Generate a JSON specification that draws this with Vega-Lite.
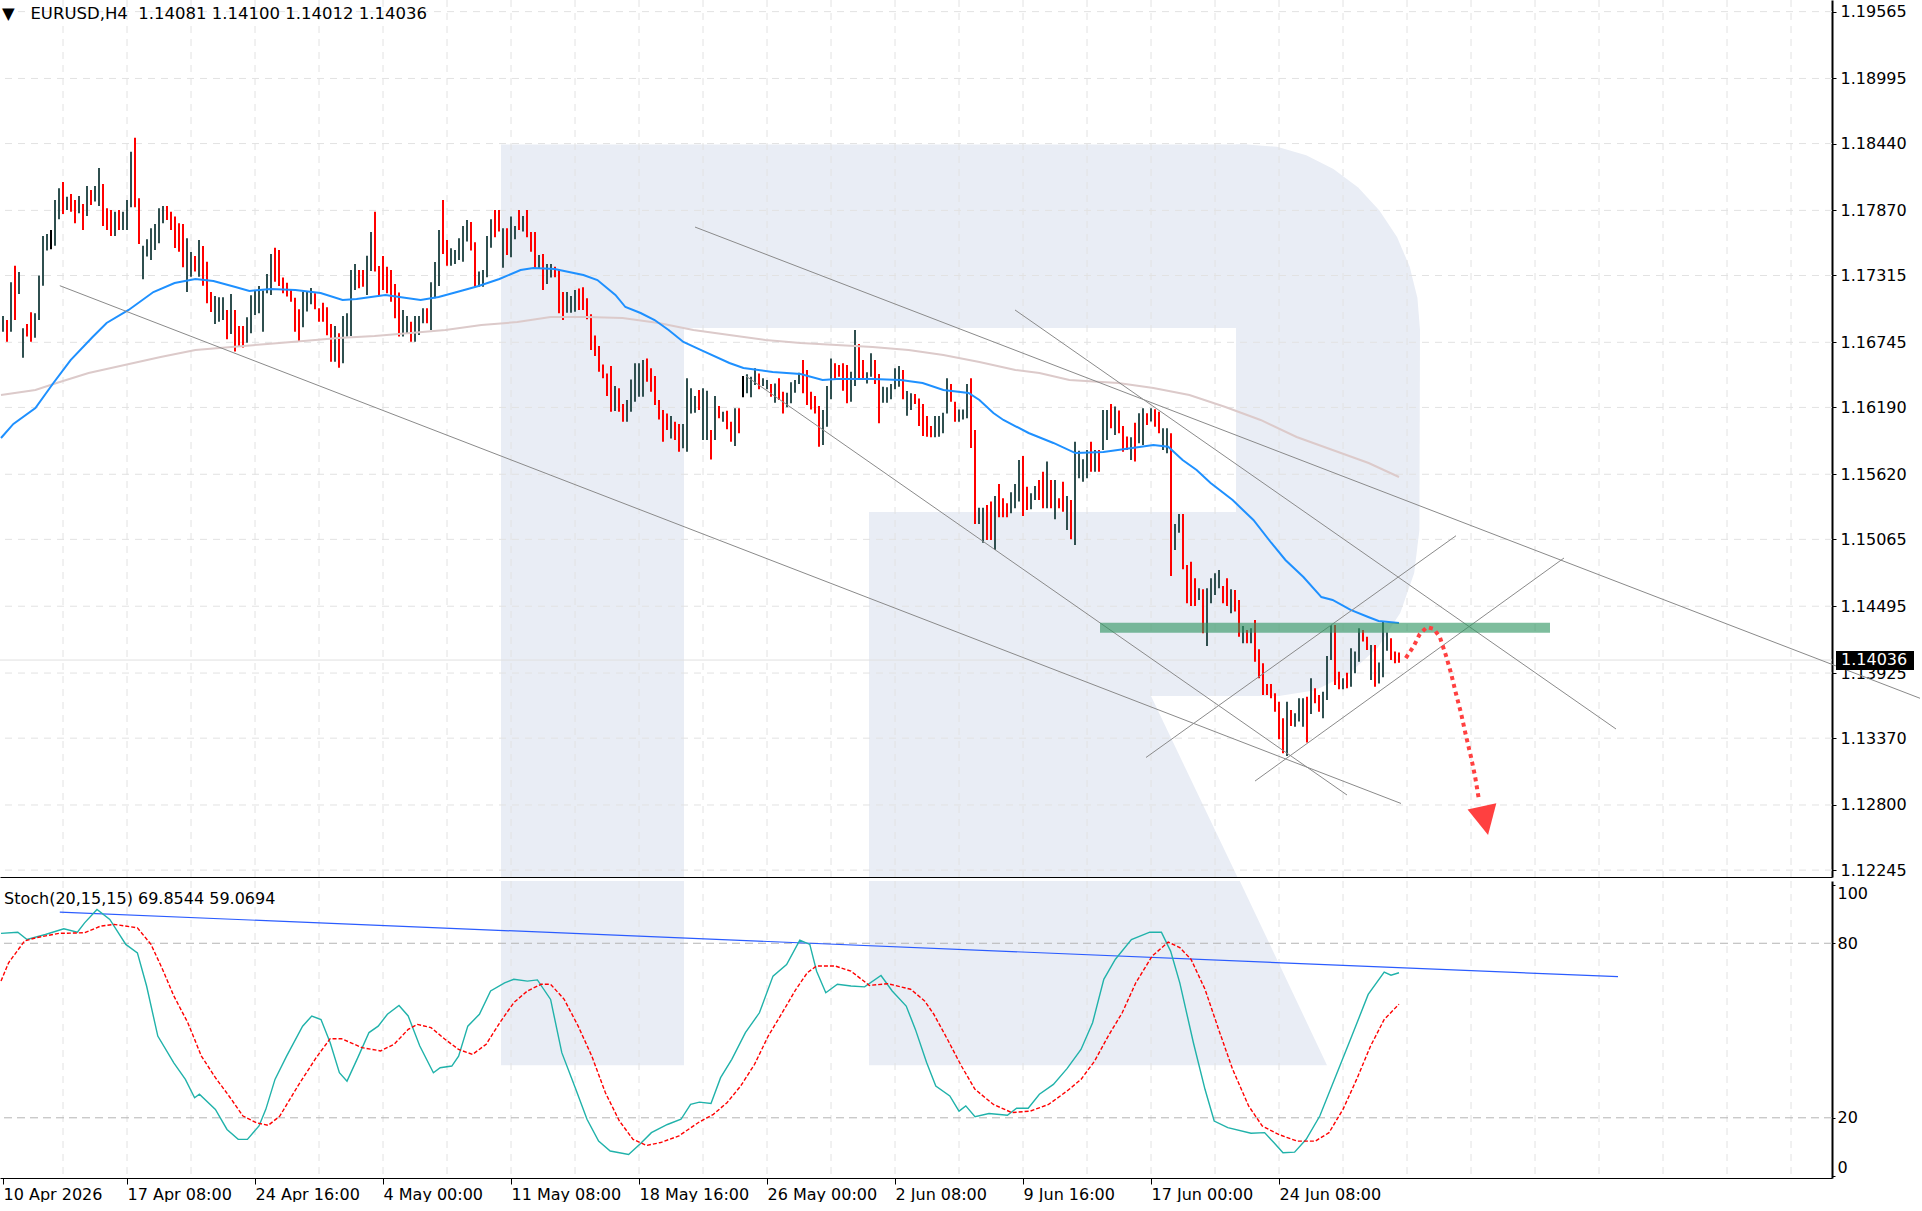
{
  "$schema": "https://vega.github.io/schema/vega-lite/v6.json",
  "description": "EURUSD H4 with moving averages, trend lines and Stochastic(20,15,15).",
  "background": "#ffffff",
  "padding": 0,
  "spacing": 2,
  "datasets": {
    "bars": [
      {"k":1,"h":1.1697,"l":1.16836,"dir":"up"},{"k":2,"h":1.16936,"l":1.16751,"dir":"down"},{"k":3,"h":1.17257,"l":1.16836,"dir":"up"},{"k":4,"h":1.17399,"l":1.16936,"dir":"down"},{"k":5,"h":1.17345,"l":1.17157,"dir":"up"},
      {"k":6,"h":1.16865,"l":1.16614,"dir":"up"},{"k":7,"h":1.16902,"l":1.16794,"dir":"down"},{"k":8,"h":1.17001,"l":1.16751,"dir":"down"},{"k":9,"h":1.16992,"l":1.16785,"dir":"up"},{"k":10,"h":1.17314,"l":1.16936,"dir":"up"},
      {"k":11,"h":1.17652,"l":1.17228,"dir":"up"},{"k":12,"h":1.17669,"l":1.17527,"dir":"up"},{"k":13,"h":1.17703,"l":1.17538,"dir":"flat"},{"k":14,"h":1.17959,"l":1.17569,"dir":"up"},{"k":15,"h":1.18058,"l":1.17794,"dir":"up"},
      {"k":16,"h":1.18112,"l":1.17839,"dir":"down"},{"k":17,"h":1.17987,"l":1.17874,"dir":"up"},{"k":18,"h":1.1801,"l":1.17859,"dir":"down"},{"k":19,"h":1.17959,"l":1.1776,"dir":"down"},{"k":20,"h":1.17993,"l":1.17845,"dir":"up"},
      {"k":21,"h":1.17925,"l":1.17703,"dir":"down"},{"k":22,"h":1.18078,"l":1.17822,"dir":"up"},{"k":23,"h":1.18044,"l":1.17916,"dir":"down"},{"k":24,"h":1.18078,"l":1.17945,"dir":"up"},{"k":25,"h":1.18232,"l":1.17908,"dir":"up"},
      {"k":26,"h":1.18095,"l":1.17737,"dir":"down"},{"k":27,"h":1.17888,"l":1.17703,"dir":"down"},{"k":28,"h":1.17874,"l":1.17652,"dir":"down"},{"k":29,"h":1.17859,"l":1.17652,"dir":"up"},{"k":30,"h":1.17874,"l":1.17703,"dir":"down"},
      {"k":31,"h":1.17859,"l":1.17703,"dir":"up"},{"k":32,"h":1.17959,"l":1.17703,"dir":"up"},{"k":33,"h":1.18371,"l":1.17896,"dir":"up"},{"k":34,"h":1.1849,"l":1.17896,"dir":"down"},{"k":35,"h":1.17973,"l":1.17584,"dir":"down"},
      {"k":36,"h":1.17569,"l":1.17282,"dir":"up"},{"k":37,"h":1.17623,"l":1.17476,"dir":"up"},{"k":38,"h":1.17717,"l":1.17447,"dir":"up"},{"k":39,"h":1.17754,"l":1.17533,"dir":"up"},{"k":40,"h":1.17888,"l":1.17589,"dir":"up"},
      {"k":41,"h":1.17908,"l":1.1776,"dir":"up"},{"k":42,"h":1.17908,"l":1.17788,"dir":"down"},{"k":43,"h":1.17859,"l":1.17703,"dir":"down"},{"k":44,"h":1.17817,"l":1.1755,"dir":"down"},{"k":45,"h":1.1776,"l":1.17518,"dir":"down"},
      {"k":46,"h":1.17754,"l":1.17385,"dir":"down"},{"k":47,"h":1.17632,"l":1.17174,"dir":"up"},{"k":48,"h":1.17515,"l":1.17305,"dir":"up"},{"k":49,"h":1.17481,"l":1.17348,"dir":"down"},{"k":50,"h":1.17618,"l":1.17305,"dir":"up"},
      {"k":51,"h":1.17567,"l":1.17228,"dir":"down"},{"k":52,"h":1.17433,"l":1.17078,"dir":"down"},{"k":53,"h":1.17174,"l":1.17004,"dir":"down"},{"k":54,"h":1.1714,"l":1.16902,"dir":"up"},{"k":55,"h":1.17129,"l":1.16921,"dir":"up"},
      {"k":56,"h":1.17129,"l":1.16936,"dir":"up"},{"k":57,"h":1.17021,"l":1.16771,"dir":"down"},{"k":58,"h":1.17157,"l":1.16816,"dir":"up"},{"k":59,"h":1.17021,"l":1.16666,"dir":"down"},{"k":60,"h":1.16884,"l":1.16708,"dir":"down"},
      {"k":61,"h":1.16884,"l":1.167,"dir":"down"},{"k":62,"h":1.16958,"l":1.16742,"dir":"up"},{"k":63,"h":1.17146,"l":1.16822,"dir":"up"},{"k":64,"h":1.17186,"l":1.16978,"dir":"up"},{"k":65,"h":1.17226,"l":1.16992,"dir":"up"},
      {"k":66,"h":1.17186,"l":1.16836,"dir":"up"},{"k":67,"h":1.17328,"l":1.17163,"dir":"up"},{"k":68,"h":1.17498,"l":1.17149,"dir":"up"},{"k":69,"h":1.17552,"l":1.17262,"dir":"down"},{"k":70,"h":1.17533,"l":1.17226,"dir":"down"},
      {"k":71,"h":1.17297,"l":1.17163,"dir":"down"},{"k":72,"h":1.17254,"l":1.17135,"dir":"down"},{"k":73,"h":1.17191,"l":1.17092,"dir":"down"},{"k":74,"h":1.17126,"l":1.16836,"dir":"down"},{"k":75,"h":1.17027,"l":1.16751,"dir":"down"},
      {"k":76,"h":1.17177,"l":1.16873,"dir":"up"},{"k":77,"h":1.17174,"l":1.17007,"dir":"up"},{"k":78,"h":1.17208,"l":1.17069,"dir":"up"},{"k":79,"h":1.17163,"l":1.17027,"dir":"down"},{"k":80,"h":1.17035,"l":1.16921,"dir":"down"},
      {"k":81,"h":1.17083,"l":1.16921,"dir":"down"},{"k":82,"h":1.17044,"l":1.16805,"dir":"down"},{"k":83,"h":1.16902,"l":1.1658,"dir":"down"},{"k":84,"h":1.16884,"l":1.1658,"dir":"up"},{"k":85,"h":1.16822,"l":1.16529,"dir":"down"},
      {"k":86,"h":1.1697,"l":1.16566,"dir":"up"},{"k":87,"h":1.16992,"l":1.16794,"dir":"up"},{"k":88,"h":1.17362,"l":1.16799,"dir":"up"},{"k":89,"h":1.17413,"l":1.17191,"dir":"up"},{"k":90,"h":1.17362,"l":1.17206,"dir":"down"},
      {"k":91,"h":1.17362,"l":1.1722,"dir":"down"},{"k":92,"h":1.17484,"l":1.17149,"dir":"up"},{"k":93,"h":1.17686,"l":1.17353,"dir":"up"},{"k":94,"h":1.17859,"l":1.17348,"dir":"down"},{"k":95,"h":1.17396,"l":1.17149,"dir":"down"},
      {"k":96,"h":1.17481,"l":1.17191,"dir":"down"},{"k":97,"h":1.1739,"l":1.17163,"dir":"down"},{"k":98,"h":1.17362,"l":1.17092,"dir":"down"},{"k":99,"h":1.17243,"l":1.1695,"dir":"down"},{"k":100,"h":1.17169,"l":1.16794,"dir":"down"},
      {"k":101,"h":1.17021,"l":1.16794,"dir":"up"},{"k":102,"h":1.1697,"l":1.16822,"dir":"up"},{"k":103,"h":1.16921,"l":1.16751,"dir":"down"},{"k":104,"h":1.1697,"l":1.16751,"dir":"up"},{"k":105,"h":1.1697,"l":1.16808,"dir":"up"},
      {"k":106,"h":1.17035,"l":1.16907,"dir":"up"},{"k":107,"h":1.17035,"l":1.16907,"dir":"down"},{"k":108,"h":1.17257,"l":1.1685,"dir":"up"},{"k":109,"h":1.1743,"l":1.1712,"dir":"up"},{"k":110,"h":1.17703,"l":1.17226,"dir":"up"},
      {"k":111,"h":1.17959,"l":1.17498,"dir":"down"},{"k":112,"h":1.17618,"l":1.17399,"dir":"down"},{"k":113,"h":1.17547,"l":1.17399,"dir":"up"},{"k":114,"h":1.17533,"l":1.17413,"dir":"up"},{"k":115,"h":1.17632,"l":1.17447,"dir":"up"},
      {"k":116,"h":1.17737,"l":1.17433,"dir":"up"},{"k":117,"h":1.17788,"l":1.17604,"dir":"up"},{"k":118,"h":1.17771,"l":1.17527,"dir":"down"},{"k":119,"h":1.17598,"l":1.1722,"dir":"down"},{"k":120,"h":1.17348,"l":1.1722,"dir":"up"},
      {"k":121,"h":1.17362,"l":1.1722,"dir":"up"},{"k":122,"h":1.17652,"l":1.17299,"dir":"up"},{"k":123,"h":1.17794,"l":1.17552,"dir":"up"},{"k":124,"h":1.17874,"l":1.17641,"dir":"down"},{"k":125,"h":1.17874,"l":1.17689,"dir":"down"},
      {"k":126,"h":1.17717,"l":1.17382,"dir":"up"},{"k":127,"h":1.17717,"l":1.1749,"dir":"down"},{"k":128,"h":1.17817,"l":1.1747,"dir":"up"},{"k":129,"h":1.17737,"l":1.17623,"dir":"up"},{"k":130,"h":1.17874,"l":1.17703,"dir":"down"},
      {"k":131,"h":1.17822,"l":1.17689,"dir":"up"},{"k":132,"h":1.17874,"l":1.17641,"dir":"down"},{"k":133,"h":1.17686,"l":1.17518,"dir":"down"},{"k":134,"h":1.17686,"l":1.17373,"dir":"down"},{"k":135,"h":1.1749,"l":1.1737,"dir":"up"},
      {"k":136,"h":1.17498,"l":1.17191,"dir":"down"},{"k":137,"h":1.17413,"l":1.17243,"dir":"up"},{"k":138,"h":1.17413,"l":1.17297,"dir":"up"},{"k":139,"h":1.1739,"l":1.17299,"dir":"down"},{"k":140,"h":1.17362,"l":1.16992,"dir":"down"},
      {"k":141,"h":1.17174,"l":1.16935,"dir":"down"},{"k":142,"h":1.17174,"l":1.16998,"dir":"up"},{"k":143,"h":1.1714,"l":1.16998,"dir":"up"},{"k":144,"h":1.17191,"l":1.17006,"dir":"up"},{"k":145,"h":1.17205,"l":1.17021,"dir":"down"},
      {"k":146,"h":1.17214,"l":1.17021,"dir":"down"},{"k":147,"h":1.1712,"l":1.16941,"dir":"down"},{"k":148,"h":1.16984,"l":1.16679,"dir":"down"},{"k":149,"h":1.16804,"l":1.16628,"dir":"down"},{"k":150,"h":1.16714,"l":1.16495,"dir":"down"},
      {"k":151,"h":1.16557,"l":1.16438,"dir":"down"},{"k":152,"h":1.1648,"l":1.16287,"dir":"down"},{"k":153,"h":1.16543,"l":1.16154,"dir":"down"},{"k":154,"h":1.16372,"l":1.16159,"dir":"up"},{"k":155,"h":1.16353,"l":1.16154,"dir":"down"},
      {"k":156,"h":1.16219,"l":1.16068,"dir":"down"},{"k":157,"h":1.16253,"l":1.16068,"dir":"up"},{"k":158,"h":1.16429,"l":1.16154,"dir":"up"},{"k":159,"h":1.16566,"l":1.16239,"dir":"up"},{"k":160,"h":1.16566,"l":1.16282,"dir":"up"},
      {"k":161,"h":1.16594,"l":1.16282,"dir":"up"},{"k":162,"h":1.16608,"l":1.16409,"dir":"down"},{"k":163,"h":1.16523,"l":1.16324,"dir":"down"},{"k":164,"h":1.16458,"l":1.1621,"dir":"down"},{"k":165,"h":1.16253,"l":1.16088,"dir":"down"},
      {"k":166,"h":1.16168,"l":1.15898,"dir":"down"},{"k":167,"h":1.16139,"l":1.15997,"dir":"down"},{"k":168,"h":1.16117,"l":1.15926,"dir":"up"},{"k":169,"h":1.16068,"l":1.15912,"dir":"down"},{"k":170,"h":1.16048,"l":1.15813,"dir":"down"},
      {"k":171,"h":1.16048,"l":1.15841,"dir":"up"},{"k":172,"h":1.16438,"l":1.15813,"dir":"up"},{"k":173,"h":1.16353,"l":1.16139,"dir":"up"},{"k":174,"h":1.16287,"l":1.16145,"dir":"up"},{"k":175,"h":1.16338,"l":1.16168,"dir":"down"},
      {"k":176,"h":1.16353,"l":1.15912,"dir":"up"},{"k":177,"h":1.16333,"l":1.15912,"dir":"up"},{"k":178,"h":1.15997,"l":1.15747,"dir":"down"},{"k":179,"h":1.16287,"l":1.15912,"dir":"up"},{"k":180,"h":1.16202,"l":1.16097,"dir":"down"},
      {"k":181,"h":1.16154,"l":1.16068,"dir":"up"},{"k":182,"h":1.16162,"l":1.16003,"dir":"down"},{"k":183,"h":1.16068,"l":1.15898,"dir":"down"},{"k":184,"h":1.16182,"l":1.15861,"dir":"up"},{"k":185,"h":1.16182,"l":1.15969,"dir":"down"},
      {"k":186,"h":1.16458,"l":1.16276,"dir":"flat"},{"k":187,"h":1.16472,"l":1.1631,"dir":"up"},{"k":188,"h":1.16452,"l":1.16276,"dir":"up"},{"k":189,"h":1.16523,"l":1.16381,"dir":"up"},{"k":190,"h":1.1648,"l":1.16344,"dir":"down"},
      {"k":191,"h":1.16438,"l":1.16372,"dir":"up"},{"k":192,"h":1.16424,"l":1.16344,"dir":"up"},{"k":193,"h":1.1639,"l":1.16282,"dir":"down"},{"k":194,"h":1.16395,"l":1.1623,"dir":"up"},{"k":195,"h":1.16438,"l":1.16253,"dir":"down"},
      {"k":196,"h":1.16324,"l":1.16139,"dir":"down"},{"k":197,"h":1.16316,"l":1.16191,"dir":"up"},{"k":198,"h":1.16404,"l":1.16225,"dir":"up"},{"k":199,"h":1.16424,"l":1.16316,"dir":"up"},{"k":200,"h":1.16486,"l":1.1639,"dir":"up"},
      {"k":201,"h":1.16594,"l":1.1631,"dir":"down"},{"k":202,"h":1.16509,"l":1.1621,"dir":"down"},{"k":203,"h":1.16324,"l":1.16173,"dir":"down"},{"k":204,"h":1.16287,"l":1.16139,"dir":"down"},{"k":205,"h":1.16202,"l":1.15855,"dir":"down"},
      {"k":206,"h":1.16168,"l":1.15869,"dir":"up"},{"k":207,"h":1.16372,"l":1.16026,"dir":"up"},{"k":208,"h":1.16608,"l":1.16259,"dir":"up"},{"k":209,"h":1.16566,"l":1.16424,"dir":"down"},{"k":210,"h":1.16552,"l":1.16452,"dir":"down"},
      {"k":211,"h":1.16566,"l":1.16333,"dir":"down"},{"k":212,"h":1.16552,"l":1.16225,"dir":"down"},{"k":213,"h":1.16495,"l":1.16239,"dir":"up"},{"k":214,"h":1.1685,"l":1.16372,"dir":"up"},{"k":215,"h":1.16731,"l":1.16438,"dir":"down"},
      {"k":216,"h":1.16594,"l":1.16429,"dir":"down"},{"k":217,"h":1.16489,"l":1.16395,"dir":"up"},{"k":218,"h":1.16651,"l":1.16452,"dir":"up"},{"k":219,"h":1.16594,"l":1.1639,"dir":"down"},{"k":220,"h":1.16475,"l":1.16054,"dir":"down"},
      {"k":221,"h":1.16367,"l":1.1623,"dir":"up"},{"k":222,"h":1.16361,"l":1.1623,"dir":"up"},{"k":223,"h":1.1639,"l":1.16259,"dir":"up"},{"k":224,"h":1.16523,"l":1.16344,"dir":"up"},{"k":225,"h":1.16543,"l":1.16367,"dir":"up"},
      {"k":226,"h":1.16509,"l":1.16259,"dir":"down"},{"k":227,"h":1.1633,"l":1.16119,"dir":"up"},{"k":228,"h":1.1631,"l":1.16168,"dir":"up"},{"k":229,"h":1.16304,"l":1.16219,"dir":"down"},{"k":230,"h":1.16267,"l":1.16031,"dir":"down"},
      {"k":231,"h":1.16219,"l":1.15946,"dir":"down"},{"k":232,"h":1.16117,"l":1.1594,"dir":"down"},{"k":233,"h":1.16031,"l":1.15935,"dir":"down"},{"k":234,"h":1.16117,"l":1.15935,"dir":"up"},{"k":235,"h":1.16117,"l":1.1594,"dir":"up"},
      {"k":236,"h":1.16145,"l":1.15969,"dir":"up"},{"k":237,"h":1.16438,"l":1.16139,"dir":"up"},{"k":238,"h":1.1639,"l":1.16239,"dir":"down"},{"k":239,"h":1.16239,"l":1.16068,"dir":"down"},{"k":240,"h":1.16173,"l":1.16068,"dir":"up"},
      {"k":241,"h":1.16173,"l":1.16088,"dir":"up"},{"k":242,"h":1.1639,"l":1.16097,"dir":"up"},{"k":243,"h":1.16438,"l":1.15845,"dir":"down"},{"k":244,"h":1.15998,"l":1.15196,"dir":"down"},{"k":245,"h":1.15335,"l":1.15196,"dir":"up"},
      {"k":246,"h":1.15335,"l":1.15037,"dir":"up"},{"k":247,"h":1.15358,"l":1.1506,"dir":"down"},{"k":248,"h":1.15387,"l":1.1506,"dir":"down"},{"k":249,"h":1.15435,"l":1.14974,"dir":"up"},{"k":250,"h":1.15537,"l":1.15253,"dir":"down"},
      {"k":251,"h":1.15415,"l":1.15253,"dir":"down"},{"k":252,"h":1.15372,"l":1.15253,"dir":"down"},{"k":253,"h":1.15466,"l":1.15287,"dir":"up"},{"k":254,"h":1.15537,"l":1.1533,"dir":"up"},{"k":255,"h":1.15742,"l":1.15387,"dir":"up"},
      {"k":256,"h":1.15776,"l":1.15264,"dir":"down"},{"k":257,"h":1.15514,"l":1.15316,"dir":"down"},{"k":258,"h":1.15458,"l":1.15321,"dir":"up"},{"k":259,"h":1.1552,"l":1.15401,"dir":"up"},{"k":260,"h":1.15571,"l":1.15401,"dir":"down"},
      {"k":261,"h":1.15642,"l":1.1533,"dir":"down"},{"k":262,"h":1.15728,"l":1.1533,"dir":"up"},{"k":263,"h":1.15571,"l":1.1533,"dir":"down"},{"k":264,"h":1.15571,"l":1.15236,"dir":"up"},{"k":265,"h":1.15415,"l":1.1533,"dir":"down"},
      {"k":266,"h":1.15557,"l":1.15301,"dir":"down"},{"k":267,"h":1.15435,"l":1.15145,"dir":"up"},{"k":268,"h":1.15401,"l":1.15065,"dir":"down"},{"k":269,"h":1.15898,"l":1.15017,"dir":"up"},{"k":270,"h":1.15821,"l":1.15586,"dir":"up"},
      {"k":271,"h":1.15748,"l":1.15557,"dir":"up"},{"k":272,"h":1.15827,"l":1.15586,"dir":"up"},{"k":273,"h":1.15898,"l":1.15642,"dir":"down"},{"k":274,"h":1.15827,"l":1.15642,"dir":"up"},{"k":275,"h":1.15827,"l":1.15642,"dir":"down"},
      {"k":276,"h":1.16168,"l":1.15827,"dir":"up"},{"k":277,"h":1.16168,"l":1.15912,"dir":"up"},{"k":278,"h":1.16219,"l":1.16012,"dir":"down"},{"k":279,"h":1.16197,"l":1.15955,"dir":"up"},{"k":280,"h":1.16163,"l":1.15969,"dir":"down"},
      {"k":281,"h":1.16032,"l":1.15813,"dir":"down"},{"k":282,"h":1.15941,"l":1.15827,"dir":"down"},{"k":283,"h":1.15935,"l":1.15742,"dir":"up"},{"k":284,"h":1.1606,"l":1.15728,"dir":"down"},{"k":285,"h":1.1614,"l":1.15884,"dir":"up"},
      {"k":286,"h":1.16182,"l":1.1587,"dir":"up"},{"k":287,"h":1.1614,"l":1.1604,"dir":"down"},{"k":288,"h":1.16182,"l":1.16069,"dir":"up"},{"k":289,"h":1.16174,"l":1.16026,"dir":"down"},{"k":290,"h":1.16154,"l":1.15969,"dir":"down"},
      {"k":291,"h":1.16012,"l":1.15827,"dir":"up"},{"k":292,"h":1.16012,"l":1.15799,"dir":"up"},{"k":293,"h":1.15969,"l":1.14753,"dir":"down"},{"k":294,"h":1.15196,"l":1.14974,"dir":"up"},{"k":295,"h":1.15281,"l":1.15122,"dir":"up"},
      {"k":296,"h":1.15281,"l":1.1481,"dir":"down"},{"k":297,"h":1.14847,"l":1.1452,"dir":"down"},{"k":298,"h":1.14875,"l":1.14497,"dir":"down"},{"k":299,"h":1.14733,"l":1.14497,"dir":"down"},{"k":300,"h":1.14648,"l":1.14548,"dir":"up"},
      {"k":301,"h":1.14639,"l":1.14264,"dir":"down"},{"k":302,"h":1.14648,"l":1.14156,"dir":"up"},{"k":303,"h":1.14733,"l":1.1452,"dir":"up"},{"k":304,"h":1.14775,"l":1.14591,"dir":"up"},{"k":305,"h":1.14804,"l":1.14648,"dir":"up"},
      {"k":306,"h":1.14667,"l":1.1452,"dir":"down"},{"k":307,"h":1.14733,"l":1.14497,"dir":"down"},{"k":308,"h":1.14639,"l":1.14434,"dir":"up"},{"k":309,"h":1.14633,"l":1.14449,"dir":"down"},{"k":310,"h":1.14548,"l":1.14235,"dir":"down"},
      {"k":311,"h":1.14326,"l":1.14179,"dir":"up"},{"k":312,"h":1.14292,"l":1.14179,"dir":"down"},{"k":313,"h":1.14306,"l":1.14179,"dir":"up"},{"k":314,"h":1.14378,"l":1.14022,"dir":"down"},{"k":315,"h":1.14127,"l":1.1388,"dir":"down"},
      {"k":316,"h":1.14008,"l":1.13738,"dir":"down"},{"k":317,"h":1.13832,"l":1.13738,"dir":"down"},{"k":318,"h":1.13832,"l":1.1371,"dir":"down"},{"k":319,"h":1.13752,"l":1.13596,"dir":"down"},{"k":320,"h":1.13681,"l":1.1336,"dir":"down"},
      {"k":321,"h":1.13539,"l":1.13241,"dir":"down"},{"k":322,"h":1.13681,"l":1.13218,"dir":"up"},{"k":323,"h":1.1361,"l":1.13474,"dir":"down"},{"k":324,"h":1.13582,"l":1.13468,"dir":"up"},{"k":325,"h":1.1371,"l":1.13511,"dir":"up"},
      {"k":326,"h":1.1371,"l":1.13468,"dir":"up"},{"k":327,"h":1.13724,"l":1.13332,"dir":"down"},{"k":328,"h":1.1388,"l":1.13576,"dir":"up"},{"k":329,"h":1.13795,"l":1.13667,"dir":"down"},{"k":330,"h":1.13738,"l":1.13596,"dir":"down"},
      {"k":331,"h":1.13766,"l":1.13539,"dir":"up"},{"k":332,"h":1.14071,"l":1.13695,"dir":"up"},{"k":333,"h":1.14335,"l":1.14036,"dir":"up"},{"k":334,"h":1.14335,"l":1.13823,"dir":"down"},{"k":335,"h":1.13937,"l":1.13786,"dir":"down"},
      {"k":336,"h":1.1388,"l":1.13786,"dir":"up"},{"k":337,"h":1.13928,"l":1.13795,"dir":"down"},{"k":338,"h":1.14136,"l":1.13809,"dir":"up"},{"k":339,"h":1.14108,"l":1.13923,"dir":"up"},{"k":340,"h":1.14306,"l":1.14022,"dir":"up"},
      {"k":341,"h":1.14292,"l":1.14193,"dir":"down"},{"k":342,"h":1.14235,"l":1.14122,"dir":"down"},{"k":343,"h":1.14164,"l":1.13866,"dir":"up"},{"k":344,"h":1.14164,"l":1.13809,"dir":"down"},{"k":345,"h":1.14014,"l":1.13837,"dir":"up"},
      {"k":346,"h":1.14363,"l":1.13889,"dir":"up"},{"k":347,"h":1.1427,"l":1.14116,"dir":"up"},{"k":348,"h":1.14221,"l":1.14036,"dir":"down"},{"k":349,"h":1.14108,"l":1.14008,"dir":"down"},{"k":350,"h":1.141,"l":1.14012,"dir":"down"}
    ],
    "maFast": [
      {"k":0.5,"p":1.15929},{"k":3.6,"p":1.16049},{"k":9.1,"p":1.16185},{"k":13.6,"p":1.16398},{"k":17.9,"p":1.16594},{"k":23.4,"p":1.1679},{"k":26.9,"p":1.1691},{"k":32.4,"p":1.17021},
      {"k":38.6,"p":1.17174},{"k":43.9,"p":1.17251},{"k":49.1,"p":1.17285},{"k":53.6,"p":1.17268},{"k":59.1,"p":1.17217},{"k":62.6,"p":1.17183},{"k":67.9,"p":1.172},{"k":74.1,"p":1.17191},
      {"k":80.4,"p":1.17166},{"k":85.9,"p":1.17106},{"k":89.4,"p":1.17114},{"k":96.6,"p":1.17149},{"k":105.4,"p":1.17106},{"k":109.9,"p":1.17131},{"k":115.4,"p":1.17183},{"k":119.9,"p":1.17225},
      {"k":125.1,"p":1.17285},{"k":130.4,"p":1.17362},{"k":133.6,"p":1.17379},{"k":138.9,"p":1.1737},{"k":146.1,"p":1.17319},{"k":149.6,"p":1.17276},{"k":154.1,"p":1.17149},{"k":156.6,"p":1.17046},
      {"k":160.4,"p":1.16995},{"k":163.9,"p":1.16935},{"k":167.4,"p":1.1685},{"k":171.1,"p":1.16748},{"k":175.4,"p":1.1668},{"k":182.6,"p":1.16569},{"k":186.1,"p":1.16526},{"k":193.4,"p":1.16492},
      {"k":200.4,"p":1.16475},{"k":205.9,"p":1.16424},{"k":209.4,"p":1.16432},{"k":218.4,"p":1.16432},{"k":225.4,"p":1.16424},{"k":230.9,"p":1.16398},{"k":236.1,"p":1.16338},{"k":242.4,"p":1.16313},
      {"k":245.1,"p":1.16253},{"k":248.6,"p":1.16142},{"k":251.1,"p":1.16083},{"k":257.4,"p":1.15972},{"k":263.6,"p":1.15887},{"k":269.1,"p":1.15801},{"k":276.1,"p":1.1581},{"k":285.1,"p":1.15852},
      {"k":288.6,"p":1.15869},{"k":292.3,"p":1.15855},{"k":295.9,"p":1.15742},{"k":299.4,"p":1.15656},{"k":302.9,"p":1.15545},{"k":308.4,"p":1.154},{"k":313.6,"p":1.1523},{"k":318.1,"p":1.15034},
      {"k":321.6,"p":1.14889},{"k":326.1,"p":1.14744},{"k":330.6,"p":1.14573},{"k":333.4,"p":1.14548},{"k":337.9,"p":1.14463},{"k":342.3,"p":1.14403},{"k":344.9,"p":1.14369},{"k":350,"p":1.14352}
    ],
    "maSlow": [
      {"k":0.5,"p":1.16296},{"k":9.1,"p":1.16338},{"k":14.4,"p":1.16398},{"k":22.4,"p":1.16483},{"k":31.4,"p":1.16552},{"k":40.4,"p":1.1662},{"k":49.1,"p":1.1668},{"k":58.1,"p":1.16705},
      {"k":67.1,"p":1.16731},{"k":76.1,"p":1.16756},{"k":84.9,"p":1.16782},{"k":93.9,"p":1.16799},{"k":102.9,"p":1.16824},{"k":111.6,"p":1.1685},{"k":120.6,"p":1.16893},{"k":129.6,"p":1.16918},
      {"k":137.9,"p":1.16961},{"k":146.9,"p":1.16961},{"k":155.9,"p":1.16952},{"k":164.9,"p":1.1691},{"k":173.6,"p":1.1685},{"k":182.6,"p":1.16807},{"k":191.6,"p":1.16765},{"k":200.4,"p":1.16739},
      {"k":209.4,"p":1.16722},{"k":218.4,"p":1.16705},{"k":227.4,"p":1.1668},{"k":236.1,"p":1.16637},{"k":245.1,"p":1.16577},{"k":254.1,"p":1.16509},{"k":260.1,"p":1.16483},{"k":267.6,"p":1.16424},
      {"k":279.8,"p":1.16398},{"k":288.6,"p":1.16356},{"k":297.6,"p":1.16296},{"k":306.6,"p":1.16194},{"k":315.4,"p":1.16083},{"k":324.4,"p":1.15938},{"k":333.4,"p":1.15827},{"k":342.4,"p":1.15716},
      {"k":350,"p":1.15597}
    ],
    "trend": [
      {"id":"L1","k":15.2,"p":1.17228},{"id":"L1","k":350.5,"p":1.12813},
      {"id":"L2","k":186.7,"p":1.16458},{"id":"L2","k":337,"p":1.12885},
      {"id":"L3","k":174,"p":1.17728},{"id":"L3","k":480.25,"p":1.1371},
      {"id":"L4","k":254,"p":1.17021},{"id":"L4","k":404.25,"p":1.13448},
      {"id":"L5","k":286.75,"p":1.13205},{"id":"L5","k":364.25,"p":1.15096},
      {"id":"L6","k":314,"p":1.13004},{"id":"L6","k":391.25,"p":1.14906}
    ],
    "band": [{"k1":275.25,"k2":387.75,"p":1.14311}],
    "arrow": [
      {"k":351.7,"p":1.14053},{"k":353.7,"p":1.14156},{"k":355.2,"p":1.14258},{"k":357,"p":1.14318},{"k":358.7,"p":1.14301},{"k":360.2,"p":1.14232},{"k":361.7,"p":1.14079},
      {"k":363,"p":1.13925},{"k":364.2,"p":1.13755},{"k":365.5,"p":1.13584},{"k":366.7,"p":1.13397},{"k":368,"p":1.13209},{"k":369,"p":1.13047},{"k":370,"p":1.12842}
    ],
    "arrowHead": [{"k":371.5,"p":1.12666}],
    "last": [{"p":1.14036,"p1":1.14113,"p2":1.13951,"txt":"1.14036"}],
    "priceTicks": [
      {"p":1.19565},{"p":1.18995},{"p":1.1844},{"p":1.1787},{"p":1.17315},{"p":1.16745},{"p":1.1619},
      {"p":1.1562},{"p":1.15065},{"p":1.14495},{"p":1.13925},{"p":1.1337},{"p":1.128},{"p":1.12245}
    ],
    "gridK": [
      {"k":16},{"k":32},{"k":48},{"k":64},{"k":80},{"k":96},{"k":112},{"k":128},{"k":144},{"k":160},{"k":176},{"k":192},{"k":208},{"k":224},
      {"k":240},{"k":256},{"k":272},{"k":288},{"k":304},{"k":320},{"k":336},{"k":352},{"k":368},{"k":384},{"k":400},{"k":416},{"k":432},{"k":448}
    ],
    "wmRects": [
      {"k1":125.5,"k2":171.25,"p1":1.18432,"p2":1.12186},
      {"k1":171.25,"k2":312,"p1":1.18432,"p2":1.16867},
      {"k1":217.5,"k2":309.5,"p1":1.15298,"p2":1.13729}
    ],
    "wmBowl": [
      {"p":1.18432,"k":312,"k0":309.25},{"p":1.18412,"k":319.5,"k0":309.25},{"p":1.18341,"k":326.8,"k0":309.25},{"p":1.18224,"k":333.6,"k0":309.25},
      {"p":1.18065,"k":339.8,"k0":309.25},{"p":1.1787,"k":345.1,"k0":309.25},{"p":1.17643,"k":349.5,"k0":309.25},{"p":1.17392,"k":352.65,"k0":309.25},
      {"p":1.17125,"k":354.6,"k0":309.25},{"p":1.1685,"k":355.25,"k0":309.25},{"p":1.15145,"k":355.1,"k0":309.25},{"p":1.14778,"k":353.8,"k0":309.25},
      {"p":1.14437,"k":350.3,"k0":309.25},{"p":1.14144,"k":344.75,"k0":309.25},{"p":1.13919,"k":337.5,"k0":309.25},{"p":1.13778,"k":329.05,"k0":309.25},
      {"p":1.13729,"k":320,"k0":309.25}
    ],
    "wmLeg": [{"p":1.13729,"k":288,"k0":217.5},{"p":1.12186,"k":309.6,"k0":217.5}],
    "wmStochRects": [{"k1":125.5,"k2":171.25,"v1":101.4,"v2":38.1}],
    "wmStochLeg": [{"v":101.4,"k":310.2,"k0":217.5},{"v":38.1,"k":332,"k0":217.5}],
    "stochMain": [
      {"k":0.5,"v":83.4},{"k":4.7,"v":83.8},{"k":7,"v":81.3},{"k":11.6,"v":83},{"k":16.2,"v":85},{"k":19.6,"v":83.8},{"k":21.4,"v":87},{"k":24.5,"v":91.6},
      {"k":27.7,"v":88.2},{"k":31.7,"v":79.6},{"k":34.6,"v":76.7},{"k":36.9,"v":65.3},{"k":39.7,"v":48.1},{"k":43.7,"v":38.9},{"k":46.6,"v":33.2},{"k":48.9,"v":26.9},
      {"k":50.1,"v":28.1},{"k":54.1,"v":22.9},{"k":57,"v":16},{"k":59.8,"v":12.6},{"k":62.1,"v":12.6},{"k":65,"v":17.2},{"k":66.7,"v":22.9},{"k":69,"v":33.2},
      {"k":71.9,"v":41.2},{"k":75.9,"v":51.5},{"k":78.2,"v":55},{"k":80.5,"v":53.8},{"k":82.8,"v":45.8},{"k":85.1,"v":35.5},{"k":87,"v":32.6},{"k":89.7,"v":40.7},
      {"k":92.5,"v":49.3},{"k":94.8,"v":51.5},{"k":97.1,"v":55.6},{"k":100,"v":58.6},{"k":102.3,"v":55},{"k":105.2,"v":44.7},{"k":108.6,"v":35.5},{"k":110.3,"v":37.2},
      {"k":113.2,"v":37.8},{"k":114.9,"v":41.2},{"k":117.2,"v":51.5},{"k":120.1,"v":55.6},{"k":122.9,"v":63.6},{"k":126.4,"v":66.4},{"k":128.7,"v":67.6},{"k":132.1,"v":67},
      {"k":134.6,"v":67.4},{"k":137.9,"v":60.7},{"k":140.7,"v":42.4},{"k":144.2,"v":29.8},{"k":147,"v":19.5},{"k":149.9,"v":12},{"k":152.8,"v":8.6},{"k":157.4,"v":7.4},
      {"k":160.2,"v":10.9},{"k":163.1,"v":14.9},{"k":167.1,"v":17.7},{"k":170.5,"v":19.5},{"k":172.9,"v":24.6},{"k":175.1,"v":25.4},{"k":178,"v":24.9},{"k":180.4,"v":33.8},
      {"k":183.2,"v":40.1},{"k":186.6,"v":49.3},{"k":190.1,"v":56.1},{"k":193.5,"v":68.7},{"k":196.9,"v":72.7},{"k":200.2,"v":81.1},{"k":202.7,"v":79.6},{"k":204.4,"v":70.4},
      {"k":206.7,"v":63},{"k":209.6,"v":65.9},{"k":213,"v":65.3},{"k":216.4,"v":65},{"k":220.5,"v":68.9},{"k":223.3,"v":63.6},{"k":226.8,"v":58.4},{"k":229.1,"v":50.4},
      {"k":231.9,"v":39},{"k":234.2,"v":30.9},{"k":237.7,"v":27.5},{"k":240,"v":22.3},{"k":241.7,"v":24.1},{"k":244,"v":20.4},{"k":247.5,"v":21.5},{"k":252.1,"v":20.9},
      {"k":254.4,"v":23.3},{"k":257.3,"v":23.3},{"k":260.1,"v":28.1},{"k":263.6,"v":31.5},{"k":267,"v":36.9},{"k":270.5,"v":43.5},{"k":273.4,"v":52.7},{"k":276.2,"v":67.6},
      {"k":279.1,"v":74.5},{"k":283.1,"v":81.3},{"k":287.7,"v":83.8},{"k":290.6,"v":83.8},{"k":292.9,"v":77.3},{"k":295.2,"v":66.4},{"k":298.6,"v":45.8},{"k":301.5,"v":29.8},
      {"k":303.8,"v":18.9},{"k":307.2,"v":16.6},{"k":313,"v":14.7},{"k":316.4,"v":14.9},{"k":318.7,"v":11.5},{"k":321,"v":8},{"k":323.9,"v":8.2},{"k":326.8,"v":12.6},
      {"k":330.2,"v":20.6},{"k":334.2,"v":34.4},{"k":338.2,"v":48.1},{"k":342.3,"v":62.4},{"k":346.3,"v":70.1},{"k":348,"v":69},{"k":350,"v":69.85}
    ],
    "stochSignal": [
      {"k":0.5,"v":67},{"k":2.4,"v":73.3},{"k":6.4,"v":80.8},{"k":9.3,"v":81.9},{"k":15,"v":83.4},{"k":21.4,"v":83.6},{"k":25.4,"v":85.9},{"k":28.8,"v":86.5},
      {"k":34.6,"v":85.3},{"k":38,"v":79.6},{"k":40.9,"v":71},{"k":43.7,"v":61.9},{"k":47.2,"v":52.7},{"k":50.6,"v":41.2},{"k":54.1,"v":33.8},{"k":57.5,"v":27.5},
      {"k":61,"v":20.6},{"k":64.4,"v":18.3},{"k":67.3,"v":17.4},{"k":70.2,"v":20.6},{"k":74.7,"v":30.9},{"k":79.3,"v":40.7},{"k":82.8,"v":47.2},{"k":85.6,"v":47.2},
      {"k":90.8,"v":44.1},{"k":95.4,"v":43},{"k":98.8,"v":45.3},{"k":102.3,"v":50.4},{"k":104.6,"v":52.1},{"k":108,"v":51},{"k":111.5,"v":47},{"k":114.9,"v":43.5},
      {"k":118.4,"v":41.8},{"k":121.8,"v":45.3},{"k":125.2,"v":52.7},{"k":128.7,"v":59.6},{"k":132.1,"v":63.6},{"k":135.5,"v":65.9},{"k":137.9,"v":65.9},{"k":141.3,"v":60.7},
      {"k":144.8,"v":51.5},{"k":148.2,"v":41.2},{"k":151.6,"v":28.6},{"k":155.1,"v":18.9},{"k":158.5,"v":12.6},{"k":161.9,"v":10.5},{"k":165.4,"v":11.5},{"k":170,"v":13.8},
      {"k":175.1,"v":18.6},{"k":178.6,"v":21.2},{"k":182,"v":25.2},{"k":185.4,"v":30.9},{"k":188.9,"v":38.4},{"k":192.3,"v":48.1},{"k":195.8,"v":56.1},{"k":199.2,"v":64.1},
      {"k":202.1,"v":69.9},{"k":204.4,"v":72.2},{"k":209,"v":72.2},{"k":213,"v":70.4},{"k":217.6,"v":65.5},{"k":222.2,"v":66.1},{"k":227.9,"v":64.2},{"k":231.4,"v":60.2},
      {"k":233.7,"v":55.6},{"k":237.1,"v":47},{"k":240.6,"v":37.8},{"k":244,"v":29.8},{"k":248.6,"v":24.6},{"k":253.2,"v":21.8},{"k":257.8,"v":22.3},{"k":262.4,"v":24.6},
      {"k":267,"v":29.2},{"k":270.5,"v":33.2},{"k":273.9,"v":39.5},{"k":277.3,"v":48.1},{"k":280.8,"v":56.1},{"k":284.2,"v":66.4},{"k":288.3,"v":75.6},{"k":292.3,"v":80.4},
      {"k":295.2,"v":78.5},{"k":298,"v":74.5},{"k":301.5,"v":64.2},{"k":304.9,"v":50.4},{"k":308.4,"v":36.7},{"k":312.4,"v":24.1},{"k":315.8,"v":17.2},{"k":319.9,"v":14.3},
      {"k":324.5,"v":12},{"k":329.1,"v":12},{"k":332.5,"v":14.9},{"k":336,"v":22.9},{"k":339.4,"v":33.2},{"k":342.9,"v":44.7},{"k":346.3,"v":53.8},{"k":350,"v":59.07}
    ],
    "stochTrend": [{"k":15.2,"v":90.7},{"k":404.75,"v":68.5}],
    "levels": [{"v":20},{"v":80}]
  },
  "vconcat": [
    {
      "width": 1832,
      "height": 877,
      "title": {"text": "▼\u00a0\u00a0\u00a0EURUSD,H4\u00a0\u00a01.14081 1.14100 1.14012 1.14036", "fontSize": 16.5, "offset": -22, "dx": 2, "frame": "group"},
      "layer": [
        {
          "data": {"name": "wmRects"},
          "mark": {"type": "rect", "color": "#e9edf5", "clip": true},
          "encoding": {
            "x": {"field": "k1", "type": "quantitative", "title": null,
                  "scale": {"domain": [0.25, 458.25], "nice": false, "zero": false},
                  "axis": {"orient": "bottom", "labels": false, "ticks": false, "grid": false, "domainColor": "#000000", "title": null}},
            "x2": {"field": "k2"},
            "y": {"field": "p1", "type": "quantitative", "title": null,
                  "scale": {"domain": [1.12186, 1.19664], "nice": false, "zero": false},
                  "axis": {"orient": "right", "values": [1.19565, 1.18995, 1.1844, 1.1787, 1.17315, 1.16745, 1.1619, 1.1562, 1.15065, 1.14495, 1.13925, 1.1337, 1.128, 1.12245],
                           "format": ".5f", "grid": false, "tickSize": 4, "labelPadding": 4, "domainWidth": 2, "labelOverlap": false, "labelFlush": false, "title": null}},
            "y2": {"field": "p2"}
          }
        },
        {
          "data": {"name": "wmBowl"},
          "mark": {"type": "area", "orient": "horizontal", "color": "#e9edf5", "clip": true},
          "encoding": {
            "y": {"field": "p", "type": "quantitative"},
            "x": {"field": "k", "type": "quantitative", "stack": null},
            "x2": {"field": "k0"}
          }
        },
        {
          "data": {"name": "wmLeg"},
          "mark": {"type": "area", "orient": "horizontal", "color": "#e9edf5", "clip": true},
          "encoding": {
            "y": {"field": "p", "type": "quantitative"},
            "x": {"field": "k", "type": "quantitative", "stack": null},
            "x2": {"field": "k0"}
          }
        },
        {
          "data": {"name": "gridK"},
          "mark": {"type": "rule", "color": "#e2e2e2", "strokeDash": [7, 6], "strokeWidth": 1, "clip": true},
          "encoding": {"x": {"field": "k", "type": "quantitative"}}
        },
        {
          "data": {"name": "priceTicks"},
          "mark": {"type": "rule", "color": "#e2e2e2", "strokeDash": [7, 6], "strokeWidth": 1, "clip": true},
          "encoding": {"y": {"field": "p", "type": "quantitative"}}
        },
        {
          "data": {"name": "last"},
          "mark": {"type": "rule", "color": "#e0e0e0", "strokeWidth": 1, "clip": true},
          "encoding": {"y": {"field": "p", "type": "quantitative"}}
        },
        {
          "data": {"name": "bars"},
          "mark": {"type": "rule", "strokeWidth": 2, "clip": true},
          "encoding": {
            "x": {"field": "k", "type": "quantitative"},
            "y": {"field": "h", "type": "quantitative"},
            "y2": {"field": "l"},
            "color": {"field": "dir", "type": "nominal", "legend": null,
                      "scale": {"domain": ["up", "down", "flat"], "range": ["#2f4f4f", "#ff0000", "#000000"]}}
          }
        },
        {
          "data": {"name": "maSlow"},
          "mark": {"type": "line", "color": "#dccaca", "strokeWidth": 2, "clip": true},
          "encoding": {"x": {"field": "k", "type": "quantitative"}, "y": {"field": "p", "type": "quantitative"}}
        },
        {
          "data": {"name": "maFast"},
          "mark": {"type": "line", "color": "#1e90ff", "strokeWidth": 2, "clip": true},
          "encoding": {"x": {"field": "k", "type": "quantitative"}, "y": {"field": "p", "type": "quantitative"}}
        },
        {
          "data": {"name": "trend"},
          "mark": {"type": "line", "color": "#8a8a8a", "strokeWidth": 1, "clip": false},
          "encoding": {
            "x": {"field": "k", "type": "quantitative"},
            "y": {"field": "p", "type": "quantitative"},
            "detail": {"field": "id", "type": "nominal"}
          }
        },
        {
          "data": {"name": "band"},
          "mark": {"type": "rule", "color": "#2f9561", "opacity": 0.62, "strokeWidth": 10, "strokeCap": "butt"},
          "encoding": {
            "x": {"field": "k1", "type": "quantitative"},
            "x2": {"field": "k2"},
            "y": {"field": "p", "type": "quantitative"}
          }
        },
        {
          "data": {"name": "arrow"},
          "mark": {"type": "line", "color": "#ff4040", "strokeWidth": 4, "strokeDash": [4, 4], "strokeCap": "butt"},
          "encoding": {"x": {"field": "k", "type": "quantitative"}, "y": {"field": "p", "type": "quantitative"}}
        },
        {
          "data": {"name": "arrowHead"},
          "mark": {"type": "point", "shape": "M-1,-1L1,-1L0,1Z", "size": 864, "angle": -12, "filled": true, "color": "#ff4040", "opacity": 1, "strokeWidth": 0},
          "encoding": {"x": {"field": "k", "type": "quantitative"}, "y": {"field": "p", "type": "quantitative"}}
        },
        {
          "data": {"name": "last"},
          "mark": {"type": "rect", "color": "#000000", "clip": false},
          "encoding": {
            "x": {"datum": 459.25},
            "x2": {"datum": 478.75},
            "y": {"field": "p1", "type": "quantitative"},
            "y2": {"field": "p2"}
          }
        },
        {
          "data": {"name": "last"},
          "mark": {"type": "text", "color": "#ffffff", "align": "left", "baseline": "middle", "font": "DejaVu Sans", "fontSize": 16, "clip": false},
          "encoding": {
            "x": {"datum": 460.5},
            "y": {"field": "p", "type": "quantitative"},
            "text": {"field": "txt"}
          }
        }
      ]
    },
    {
      "width": 1832,
      "height": 297,
      "title": {"text": "Stoch(20,15,15) 69.8544 59.0694", "fontSize": 16, "offset": -26, "dx": 4, "frame": "group"},
      "layer": [
        {
          "data": {"name": "wmStochRects"},
          "mark": {"type": "rect", "color": "#e9edf5", "clip": true},
          "encoding": {
            "x": {"field": "k1", "type": "quantitative", "title": null,
                  "scale": {"domain": [0.25, 458.25], "nice": false, "zero": false},
                  "axis": {"orient": "bottom", "values": [1, 32, 64, 96, 128, 160, 192, 224, 256, 288, 320],
                           "labelExpr": "['10 Apr 2026','17 Apr 08:00','24 Apr 16:00','4 May 00:00','11 May 08:00','18 May 16:00','26 May 00:00','2 Jun 08:00','9 Jun 16:00','17 Jun 00:00','24 Jun 08:00'][round(datum.value/32)]",
                           "labelAlign": "left", "labelDx": -3, "labelPadding": 2, "tickSize": 6, "grid": false,
                           "labelFlush": false, "labelOverlap": false, "labelBound": false, "domainColor": "#000000", "title": null}},
            "x2": {"field": "k2"},
            "y": {"field": "v1", "type": "quantitative", "title": null,
                  "scale": {"domain": [-0.69, 101.4], "nice": false, "zero": false},
                  "axis": {"orient": "right", "values": [0, 20, 80, 100], "grid": false, "tickSize": 3, "labelPadding": 2,
                           "domainWidth": 2, "labelFlush": 6, "labelOverlap": false, "title": null}},
            "y2": {"field": "v2"}
          }
        },
        {
          "data": {"name": "wmStochLeg"},
          "mark": {"type": "area", "orient": "horizontal", "color": "#e9edf5", "clip": true},
          "encoding": {
            "y": {"field": "v", "type": "quantitative"},
            "x": {"field": "k", "type": "quantitative", "stack": null},
            "x2": {"field": "k0"}
          }
        },
        {
          "data": {"name": "gridK"},
          "mark": {"type": "rule", "color": "#e2e2e2", "strokeDash": [7, 6], "strokeWidth": 1, "clip": true},
          "encoding": {"x": {"field": "k", "type": "quantitative"}}
        },
        {
          "data": {"name": "levels"},
          "mark": {"type": "rule", "color": "#b4b4b4", "strokeDash": [8, 5], "strokeWidth": 1, "clip": true},
          "encoding": {"y": {"field": "v", "type": "quantitative"}}
        },
        {
          "data": {"name": "stochTrend"},
          "mark": {"type": "line", "color": "#2b5cff", "strokeWidth": 1.2, "clip": true},
          "encoding": {"x": {"field": "k", "type": "quantitative"}, "y": {"field": "v", "type": "quantitative"}}
        },
        {
          "data": {"name": "stochMain"},
          "mark": {"type": "line", "color": "#20b2aa", "strokeWidth": 1.4, "clip": true},
          "encoding": {"x": {"field": "k", "type": "quantitative"}, "y": {"field": "v", "type": "quantitative"}}
        },
        {
          "data": {"name": "stochSignal"},
          "mark": {"type": "line", "color": "#ff0000", "strokeWidth": 1.4, "strokeDash": [4, 2], "clip": true},
          "encoding": {"x": {"field": "k", "type": "quantitative"}, "y": {"field": "v", "type": "quantitative"}}
        },
        {
          "mark": {"type": "rule", "color": "#000000", "strokeWidth": 1},
          "encoding": {"y": {"datum": 101.4}}
        }
      ]
    }
  ],
  "config": {
    "view": {"stroke": null},
    "font": "DejaVu Sans",
    "axis": {
      "labelFont": "DejaVu Sans",
      "labelFontSize": 16,
      "labelColor": "#000000",
      "domainColor": "#000000",
      "tickColor": "#000000"
    },
    "title": {"font": "DejaVu Sans", "fontWeight": "normal", "color": "#000000", "anchor": "start", "baseline": "alphabetic"}
  }
}
